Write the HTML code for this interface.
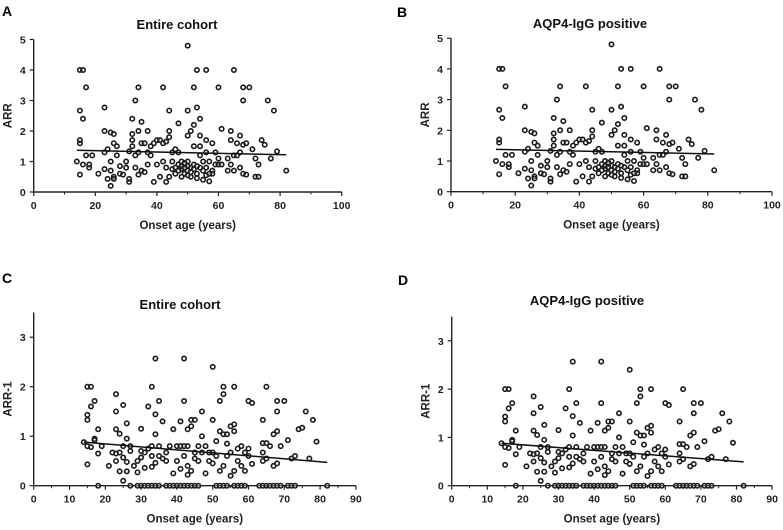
<!DOCTYPE html>
<html><head><meta charset="utf-8">
<style>
body{margin:0;background:#fff;}
svg{display:block;font-family:"Liberation Sans",Arial,sans-serif;}
.tk{font-size:10.5px;font-weight:bold;fill:#222;}
.ti{font-size:13px;font-weight:bold;fill:#111;}
.lt{font-size:14px;font-weight:bold;fill:#000;}
.at{font-size:11.5px;font-weight:bold;fill:#222;}
</style></head>
<body>
<svg id="chart" width="783" height="530" viewBox="0 0 783 530"></svg>
<script>
// ARR data (panels A and B)
const arrAges = [15,16,17,15,16,15,15,14,15,16,17,18,19,18,21,23,23,23,23,24,24,25,25,25,25,26,26,26,26,27,27,28,28,29,30,30,31,31,31,32,32,32,32,33,33,33,34,34,34,34,35,35,35,36,36,37,37,37,38,38,39,39,40,40,41,41,42,42,42,43,43,43,44,44,44,44,45,45,45,46,46,47,47,47,48,48,48,49,49,50,50,50,50,50,51,51,51,52,52,52,52,53,53,53,53,54,54,54,54,54,55,55,56,56,56,56,57,57,58,58,58,59,59,60,60,60,61,61,63,63,64,64,64,65,65,65,66,66,67,67,67,68,68,68,68,69,69,70,71,72,72,73,73,74,75,76,77,78,79,82,46,47,48,49,50,51,52,53,55,56,57,49,50];
const arrVals = [4,4,3.43,2.67,2.4,1.6,1.7,1,0.57,0.9,1.2,0.8,1.2,0.9,0.6,2.77,2,1.3,0.75,1.4,0.43,1.95,0.2,0.7,1,1.9,1.6,0.5,0.43,1.5,1.2,0.85,0.6,0.57,1,0.8,0.33,0.43,1.33,2.4,1.9,1.7,1.5,3,1.2,0.8,3.43,2,1.3,0.57,2.3,1.6,0.7,1.6,0.65,2,1.3,0.9,1.2,1.5,0.33,1.6,1.7,0.9,1.7,0.5,3.43,1.6,1,0.33,1.65,0.8,2.67,2,1.8,0.5,1.3,1,0.75,1.4,0.8,2.25,1.3,0.9,1,0.75,0.5,0.9,0.6,4.8,2.67,1.85,1,0.7,2,0.8,0.5,3.43,2.2,1.5,0.9,4,2.77,0.6,0.45,2.4,1.85,1.5,1.2,0.8,1,0.4,4,1.7,1.3,0.8,0.35,1,1.6,0.7,0.6,1.3,0.9,3.43,1.1,0.9,2.07,0.9,1.1,0.7,2,1.7,0.9,4,1.2,0.7,1.6,1.2,1.85,0.8,1.3,3.43,3,1.55,0.6,1.6,0.57,3.43,1.4,1.1,0.5,0.9,0.5,1.7,1.55,3,1.1,2.67,1.33,0.7,0.6,0.7,0.85,0.95,0.85,0.65,0.75,0.85,0.7,0.55,0.6,0.8,0.55];
// ARR-1 data (panels C and D)
const arr1Ages = [14,15,16,15,15,16,17,15,16,15,17,17,18,18,19,21,22,23,23,23,23,23,24,24,24,25,25,25,25,26,26,26,26,27,27,28,29,29,30,30,30,31,31,32,32,33,33,33,33,34,34,34,34,35,35,35,36,36,37,37,38,39,39,40,40,41,41,41,42,42,42,42,43,43,43,43,44,44,44,45,45,45,46,46,47,47,47,48,48,49,49,50,50,50,50,51,51,52,52,52,53,53,53,53,54,54,54,55,55,55,56,56,56,56,57,57,58,58,59,59,60,60,60,61,61,64,64,64,64,65,65,65,66,67,67,68,68,68,68,69,70,71,72,73,74,75,76,77,78,79,
18,27,29,30,31,32,33,34,35,37,38,39,40,41,42,43,44,45,46,51,52,53,54,56,57,58,59,63,64,65,66,67,68,69,71,72,73,82];
const arr1Vals = [0.88,2,2,1.43,1.33,1.6,1.71,0.8,0.78,0.43,0.95,0.92,1.14,0.65,0.8,0.4,0.67,1.85,1.5,1.14,0.65,0.5,1.05,0.67,0.29,1.63,0.8,0.57,0.1,1.26,0.95,0.48,0.29,0.8,0.7,0.4,0.5,0.27,1.15,0.7,0.57,0.67,0.36,1.6,0.75,2,0.8,0.6,0.38,2.57,1.44,1.04,0.46,1.71,0.8,0.6,1.3,0.55,0.5,0.67,0.8,1.14,0.25,0.8,0.5,1.3,0.8,0.34,2.57,1.71,0.8,0.6,1.14,0.8,0.22,0.4,1.33,1.2,0.3,1.33,0.67,0.55,0.8,0.5,1.5,1,0.67,0.8,0.25,0.67,0.5,2.4,1.33,0.67,0.45,0.9,0.6,1.71,1.1,0.3,2,1.85,1.04,0.4,1.04,0.85,0.6,1.2,0.67,0.2,2,1.24,1.1,0.3,0.75,0.5,0.8,0.4,0.67,0.3,1.71,0.75,0.6,1.67,0.44,1.33,0.86,0.67,0.5,2,0.86,0.55,0.8,1.04,0.4,1.71,1.5,1.1,0.45,0.8,1.71,0.92,0.55,0.6,1.14,1.17,1.5,0.55,1.33,0.89,
0,0,0,0,0,0,0,0,0,0,0,0,0,0,0,0,0,0,0,0,0,0,0,0,0,0,0,0,0,0,0,0,0,0,0,0,0,0,0];
// fitted regression lines [intercept, slope]
const fitA = [1.40, -0.0022];
const fitB = [1.41, -0.0022];
const fitC = [0.964, -0.0060];
const fitD = [0.960, -0.0057];
const yTicksARR = [0,1,2,3,4,5];
const xTicksARR = [0,20,40,60,80,100];
const yTicksARR1 = [0,1,2,3];
const xTicksARR1 = [0,10,20,30,40,50,60,70,80,90];

const svg = document.getElementById('chart');
const NS = 'http://www.w3.org/2000/svg';
function mk(tag, attrs, parent){
  const e = document.createElementNS(NS, tag);
  for (const k in attrs) e.setAttribute(k, attrs[k]);
  (parent||svg).appendChild(e); return e;
}
function panel(p){
  const g = mk('g', {});
  
  
  const sx = v => p.ox + v * p.kx;
  const sy = v => p.oy - v * p.ky;
  const xEnd = sx(p.xTicks[p.xTicks.length-1]);
  const L = mk('text', {x:p.lx, y:p.ly, class:'lt'}, g); L.textContent = p.id.toUpperCase();
   
  const T = mk('text', {x:p.tx, y:p.ty, class:'ti', 'text-anchor':'middle'}, g); T.textContent = p.title;
   
  const xa = mk('line', {x1:p.ox, y1:p.oy, x2:xEnd, y2:p.oy, stroke:'#222', 'stroke-width':1.4}, g);
   
  const ya = mk('line', {x1:p.ox, y1:p.oy, x2:p.ox, y2:sy(p.yTop), stroke:'#222', 'stroke-width':1.4}, g);
   
  p.xTicks.forEach((t, i) => {
    const x = sx(t);
    mk('line', {x1:x, y1:p.oy, x2:x, y2:p.oy+4, stroke:'#222', 'stroke-width':1.2}, g);
    if (i < p.xTicks.length-1) { const m = sx((t + p.xTicks[i+1])/2);
      mk('line', {x1:m, y1:p.oy, x2:m, y2:p.oy+2.5, stroke:'#222', 'stroke-width':1}, g); }
    const tx = mk('text', {x:x, y:p.oy+17, class:'tk', 'text-anchor':'middle'}, g); tx.textContent = t;
     
  });
  p.yTicks.forEach(t => {
    const y = sy(t);
    mk('line', {x1:p.ox-4, y1:y, x2:p.ox, y2:y, stroke:'#222', 'stroke-width':1.2}, g);
    const ty = mk('text', {x:p.ox-8, y:y+4, class:'tk', 'text-anchor':'end'}, g); ty.textContent = t;
     
  });
  const xt = mk('text', {x:(p.ox+xEnd)/2, y:p.oy+37, class:'at', 'text-anchor':'middle'}, g); xt.textContent = 'Onset age (years)';
   
  const yc = (p.oy + sy(p.yTop))/2;
  const yt = mk('text', {x:p.ox-22, y:yc, class:'at', 'text-anchor':'middle', transform:`rotate(-90 ${p.ox-22} ${yc})`}, g); yt.textContent = p.ylab;
   
  p.ages.forEach((a, i) => {
    const c = mk('circle', {cx:sx(a), cy:sy(p.vals[i]), r:2.2, fill:'#fff', 'fill-opacity':0.3, stroke:'#1a1a1a', 'stroke-width':1.6}, g);
     
  });
  const amin = Math.min(...p.ages), amax = Math.max(...p.ages);
  const fl = mk('line', {x1:sx(amin), y1:sy(p.fit[0]+p.fit[1]*amin), x2:sx(amax), y2:sy(p.fit[0]+p.fit[1]*amax), stroke:'#111', 'stroke-width':1.5}, g);
   
}
panel({id:'a', title:'Entire cohort', ylab:'ARR', ages:arrAges, vals:arrVals, fit:fitA,
  ox:33.7, kx:3.08, oy:192, ky:30.5, yTop:5, xTicks:xTicksARR, yTicks:yTicksARR, lx:2, ly:16, tx:177, ty:29});
panel({id:'b', title:'AQP4-IgG positive', ylab:'ARR', ages:arrAges, vals:arrVals, fit:fitB,
  ox:451, kx:3.21, oy:191.7, ky:30.7, yTop:5, xTicks:xTicksARR, yTicks:yTicksARR, lx:397, ly:17, tx:590, ty:28});
panel({id:'c', title:'Entire cohort', ylab:'ARR-1', ages:arr1Ages, vals:arr1Vals, fit:fitC,
  ox:33.7, kx:3.58, oy:485.7, ky:49.5, yTop:3.5, xTicks:xTicksARR1, yTicks:yTicksARR1, lx:2, ly:283, tx:180, ty:309});
panel({id:'d', title:'AQP4-IgG positive', ylab:'ARR-1', ages:arr1Ages, vals:arr1Vals, fit:fitD,
  ox:451.7, kx:3.56, oy:485.7, ky:48.3, yTop:3.5, xTicks:xTicksARR1, yTicks:yTicksARR1, lx:398, ly:285, tx:587, ty:305});
</script>
</body></html>
